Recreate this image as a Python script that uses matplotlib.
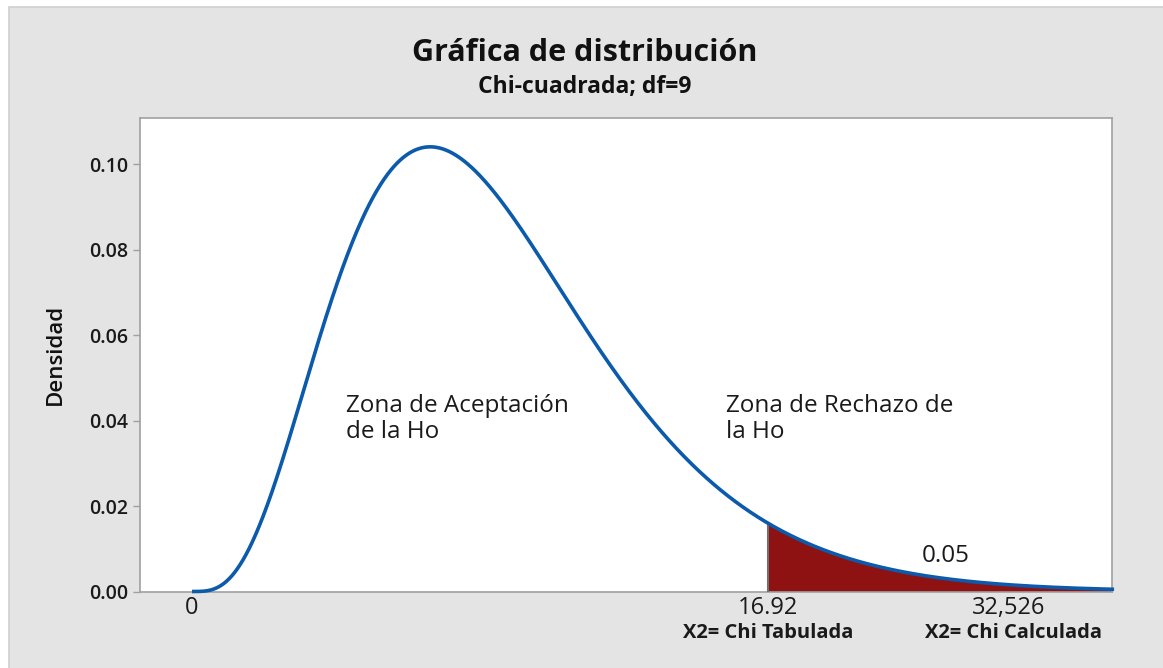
import math
import numpy as np
import matplotlib
matplotlib.use("Agg")
import matplotlib.pyplot as plt
from matplotlib.patches import Rectangle
import matplotlib.transforms as mtransforms

plt.rcParams['font.family'] = ['Open Sans', 'DejaVu Sans']

# ---- data ----
DF = 9
X_MAX = 27.1
CRIT = 16.92
AREA_LABEL = "0.05"
XTICK_POS = [0, 16.92, 24.0]
XTICK_LABELS = ["0", "16.92", "32,526"]
XSUB_POS = [16.92, 24.15]
XSUB_LABELS = ["X2= Chi Tabulada", "X2= Chi Calculada"]
YTICKS = [0.00, 0.02, 0.04, 0.06, 0.08, 0.10]
TITLE = "Gráfica de distribución"
SUBTITLE = "Chi-cuadrada; df=9"
YLABEL = "Densidad"
ZONE_TEXTS = ["Zona de Aceptación\nde la Ho", "Zona de Rechazo de\nla Ho"]
ZONE_POS = [(4.53, 0.0404), (15.70, 0.0404)]
AREA_POS = (21.46, 0.0082)


def chi2_pdf(x, k):
    x = np.asarray(x, dtype=float)
    out = np.zeros_like(x)
    m = x > 0
    out[m] = np.exp((k / 2 - 1) * np.log(x[m]) - x[m] / 2 - (k / 2) * math.log(2) - math.lgamma(k / 2))
    return out


x = np.linspace(0, X_MAX, 1500)
y = chi2_pdf(x, DF)

W, H = 1163, 668
fig = plt.figure(figsize=(W / 100, H / 100), dpi=100)
fig.patch.set_facecolor("white")
bg = Rectangle((9 / W, -0.01), 1 - 9 / W + 0.01, 1 - 7 / H + 0.01, transform=fig.transFigure,
               facecolor="#e4e4e4", edgecolor="#d0d0d0", linewidth=1.2, zorder=-10)
fig.patches.append(bg)

ax = fig.add_axes([140 / W, 1 - 591.5 / H, (1112 - 140) / W, (591.5 - 118.3) / H])
ax.set_facecolor("white")
ax.set_xlim(-1.529, 27.04)
ax.set_ylim(0, 0.1108)

xf = x[x >= CRIT]
ax.fill_between(xf, 0, chi2_pdf(xf, DF), color="#8e1212", linewidth=0, zorder=2)
ax.plot([CRIT, CRIT], [0, chi2_pdf([CRIT], DF)[0]], color="#707070", lw=1.5, zorder=3)
ax.plot(x, y, color="#0b5aab", lw=2.6, zorder=4, clip_on=False, solid_capstyle="butt")

for s in ax.spines.values():
    s.set_color("#a0a0a0")
    s.set_linewidth(1.2)

ax.set_yticks(YTICKS)
ax.set_yticklabels([f"{v:.2f}" for v in YTICKS], fontsize=14, fontweight="semibold", color="#1a1a1a")
ax.tick_params(axis="y", length=5, width=1, color="#a0a0a0", pad=3.5)
ax.set_xticks(XTICK_POS)
ax.set_xticklabels(XTICK_LABELS, fontsize=17, color="#1a1a1a")
ax.tick_params(axis="x", length=0, pad=3)

trans = mtransforms.blended_transform_factory(ax.transData, fig.transFigure)
for xp, lab in zip(XSUB_POS, XSUB_LABELS):
    ax.text(xp, 1 - 633 / H, lab, transform=trans, ha="center", va="center",
            fontsize=14.5, fontweight="bold", color="#1a1a1a")

for (zx, zy), t in zip(ZONE_POS, ZONE_TEXTS):
    ax.text(zx, zy, t, ha="left", va="center", fontsize=17.5, color="#1a1a1a", linespacing=1.1)
ax.text(AREA_POS[0], AREA_POS[1], AREA_LABEL, ha="left", va="center", fontsize=17.5, color="#1a1a1a")

fig.text(0.503, 1 - 53 / H, TITLE, ha="center", va="center", fontsize=22, fontweight="bold", color="#111111")
fig.text(0.503, 1 - 86.5 / H, SUBTITLE, ha="center", va="center", fontsize=16.5, fontweight="bold", color="#111111")
fig.text(55 / W, 1 - 354 / H, YLABEL, ha="center", va="center", rotation=90, fontsize=16,
         fontweight="semibold", color="#111111")

fig.savefig("out.png", dpi=100, facecolor=fig.get_facecolor())
